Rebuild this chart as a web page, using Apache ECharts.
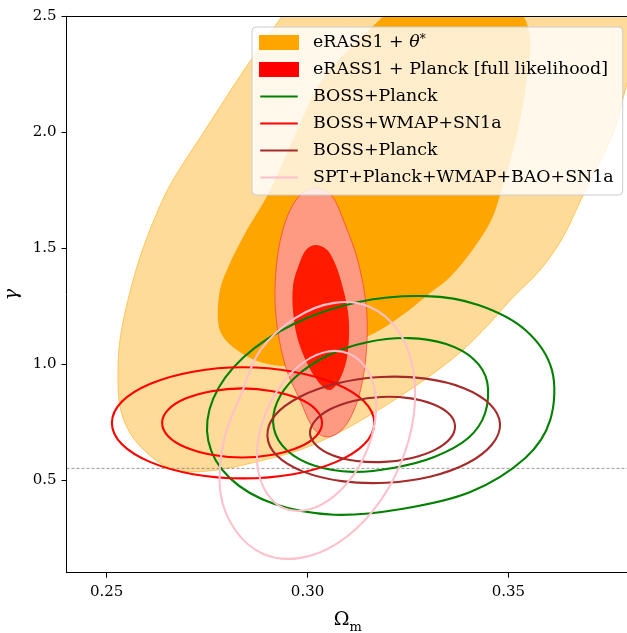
<!DOCTYPE html>
<html>
<head>
<meta charset="utf-8">
<script src="https://cdn.jsdelivr.net/npm/echarts@6/dist/echarts.min.js"></script>
<style>
  html, body { margin: 0; padding: 0; background: #ffffff; }
  #chart { width: 627px; height: 633px; }
</style>
</head>
<body>
<div id="chart"></div>
<script>
// Axis ticks
const xTicks = [0.25, 0.30, 0.35];
const yTicks = [0.5, 1.0, 1.5, 2.0, 2.5];
// Reference growth index (GR)
const gammaRef = 0.55;

// Confidence contours in the (Omega_m, gamma) plane, [Omega_m, gamma] vertices.
// eRASS1 + theta*: 95% and 68% regions (open beyond the top/right of the window)
const erassThetaOuter = [[0.2956,2.549],[0.3031,2.743],[0.3230,3.002],[0.3479,3.088],[0.3728,2.959],[0.3853,2.657],[0.3840,2.398],[0.3796,2.212],[0.3761,1.997],[0.3686,1.729],[0.3636,1.548],[0.3579,1.406],[0.3512,1.289],[0.3454,1.177],[0.3387,1.061],[0.3318,0.966],[0.3243,0.875],[0.3168,0.793],[0.3081,0.707],[0.2981,0.629],[0.2882,0.582],[0.2790,0.547],[0.2707,0.535],[0.2650,0.556],[0.2600,0.617],[0.2558,0.703],[0.2533,0.815],[0.2528,0.962],[0.2533,1.104],[0.2551,1.263],[0.2583,1.462],[0.2625,1.652],[0.2665,1.794],[0.2745,2.010],[0.2847,2.281]];
const erassThetaInner = [[0.3186,2.497],[0.3230,2.592],[0.3330,2.635],[0.3430,2.613],[0.3504,2.562],[0.3539,2.497],[0.3554,2.398],[0.3549,2.268],[0.3524,2.010],[0.3479,1.729],[0.3454,1.609],[0.3405,1.479],[0.3355,1.376],[0.3305,1.307],[0.3243,1.220],[0.3193,1.160],[0.3143,1.113],[0.3093,1.069],[0.3036,1.031],[0.2981,1.000],[0.2932,0.992],[0.2874,1.013],[0.2824,1.061],[0.2790,1.117],[0.2777,1.190],[0.2782,1.320],[0.2807,1.436],[0.2849,1.578],[0.2907,1.751],[0.2969,1.988],[0.3031,2.212],[0.3106,2.363]];
// eRASS1 + Planck (full likelihood)
const erassPlanckOuter = [[0.3016,1.759],[0.2974,1.714],[0.2941,1.594],[0.2922,1.417],[0.2921,1.211],[0.2944,0.996],[0.2981,0.845],[0.3014,0.724],[0.3051,0.686],[0.3093,0.731],[0.3126,0.851],[0.3145,1.027],[0.3147,1.234],[0.3126,1.440],[0.3093,1.604],[0.3061,1.723]];
const erassPlanckInner = [[0.3019,1.514],[0.3049,1.492],[0.3071,1.423],[0.3088,1.328],[0.3101,1.220],[0.3103,1.113],[0.3096,1.009],[0.3078,0.927],[0.3056,0.888],[0.3031,0.914],[0.3001,0.996],[0.2976,1.104],[0.2964,1.225],[0.2964,1.341],[0.2981,1.440],[0.2996,1.492]];
// BOSS+Planck
const bossPlanckOuter = [[0.3608,0.975],[0.3542,1.147],[0.3425,1.255],[0.3295,1.293],[0.3127,1.268],[0.2968,1.175],[0.2840,1.028],[0.2765,0.850],[0.2753,0.668],[0.2806,0.509],[0.2916,0.397],[0.3066,0.350],[0.3234,0.375],[0.3405,0.448],[0.3542,0.595],[0.3604,0.759]];
const bossPlanckInner = [[0.3447,0.924],[0.3414,1.020],[0.3345,1.086],[0.3252,1.112],[0.3148,1.094],[0.3049,1.036],[0.2970,0.944],[0.2924,0.835],[0.2916,0.723],[0.2949,0.627],[0.3018,0.561],[0.3112,0.535],[0.3216,0.553],[0.3315,0.599],[0.3400,0.681],[0.3442,0.789]];
// BOSS+WMAP+SN1a
const bossWmapOuter = [[0.3166,0.746],[0.3141,0.838],[0.3070,0.915],[0.2964,0.967],[0.2839,0.986],[0.2715,0.967],[0.2609,0.915],[0.2538,0.838],[0.2513,0.746],[0.2538,0.654],[0.2609,0.577],[0.2715,0.525],[0.2839,0.507],[0.2964,0.525],[0.3070,0.577],[0.3141,0.654]];
const bossWmapInner = [[0.3036,0.746],[0.3021,0.803],[0.2978,0.851],[0.2913,0.883],[0.2837,0.895],[0.2761,0.883],[0.2696,0.851],[0.2653,0.803],[0.2638,0.746],[0.2653,0.689],[0.2696,0.641],[0.2761,0.609],[0.2837,0.597],[0.2913,0.609],[0.2978,0.641],[0.3021,0.689]];
// BOSS+Planck (second analysis)
const bossPlanckBOuter = [[0.3479,0.742],[0.3454,0.827],[0.3389,0.896],[0.3294,0.937],[0.3182,0.944],[0.3072,0.916],[0.2980,0.858],[0.2919,0.779],[0.2900,0.689],[0.2924,0.604],[0.2989,0.536],[0.3085,0.495],[0.3196,0.488],[0.3307,0.515],[0.3399,0.573],[0.3459,0.653]];
const bossPlanckBInner = [[0.3367,0.734],[0.3352,0.786],[0.3311,0.828],[0.3252,0.853],[0.3183,0.858],[0.3114,0.841],[0.3056,0.805],[0.3019,0.756],[0.3006,0.701],[0.3022,0.649],[0.3062,0.607],[0.3122,0.582],[0.3191,0.578],[0.3260,0.595],[0.3317,0.630],[0.3355,0.679]];
// SPT+Planck+WMAP+BAO+SN1a
const sptOuter = [[0.3155,1.246],[0.3066,1.264],[0.2970,1.199],[0.2882,1.059],[0.2837,0.880],[0.2792,0.673],[0.2783,0.446],[0.2821,0.281],[0.2890,0.181],[0.2979,0.163],[0.3075,0.228],[0.3163,0.368],[0.3229,0.560],[0.3264,0.775],[0.3262,0.981],[0.3224,1.147]];
const sptInner = [[0.3104,1.044],[0.3051,1.054],[0.2993,1.011],[0.2940,0.923],[0.2899,0.802],[0.2877,0.668],[0.2877,0.540],[0.2900,0.439],[0.2941,0.378],[0.2994,0.369],[0.3052,0.412],[0.3105,0.500],[0.3146,0.620],[0.3168,0.755],[0.3168,0.882],[0.3145,0.984]];

const SERIF = 'DejaVu Serif';
// thin horizontal bar inside a 40x16 box, used as a line swatch in the legend
const LINE_ICON = 'path://M0,0 M0,7 L40,7 L40,9 L0,9 Z M40,16';

// Closed Catmull-Rom curve through the projected vertices, written as SVG path data
function closedCurve(px) {
  const n = px.length;
  const f = v => v.toFixed(2);
  let d = 'M' + f(px[0][0]) + ',' + f(px[0][1]);
  for (let i = 0; i < n; i++) {
    const p0 = px[(i - 1 + n) % n], p1 = px[i], p2 = px[(i + 1) % n], p3 = px[(i + 2) % n];
    const c1x = p1[0] + (p2[0] - p0[0]) / 6, c1y = p1[1] + (p2[1] - p0[1]) / 6;
    const c2x = p2[0] - (p3[0] - p1[0]) / 6, c2y = p2[1] - (p3[1] - p1[1]) / 6;
    d += 'C' + f(c1x) + ',' + f(c1y) + ' ' + f(c2x) + ',' + f(c2y) + ' ' + f(p2[0]) + ',' + f(p2[1]);
  }
  return d + 'Z';
}

// One custom series per data set; each region is drawn as a smooth closed curve
function contourSeries(name, color, regions, z) {
  return {
    type: 'custom',
    name: name,
    coordinateSystem: 'cartesian2d',
    clip: true,
    silent: true,
    z: z,
    itemStyle: { color: color },
    data: regions.map((r, i) => [i, i]),
    renderItem: function (params, api) {
      const r = regions[params.dataIndex];
      return {
        type: 'path',
        shape: { pathData: closedCurve(r.pts.map(p => api.coord(p))) },
        style: {
          fill: r.fill || null,
          stroke: r.stroke || null,
          lineWidth: r.width || 0
        }
      };
    }
  };
}

const chart = echarts.init(document.getElementById('chart'), null, { renderer: 'canvas' });

const LW = 2.1;
const series = [
  contourSeries('eRASS1 + θ*', '#FFA500', [
    { pts: erassThetaOuter, fill: 'rgba(255,165,0,0.4)', stroke: 'rgba(255,165,0,0.55)', width: 1 },
    { pts: erassThetaInner, fill: '#FFA500' }
  ], 2),
  contourSeries('eRASS1 + Planck [full likelihood]', '#FF0000', [
    { pts: erassPlanckOuter, fill: '#FF9A82', stroke: 'rgba(255,60,30,0.7)', width: 1 },
    { pts: erassPlanckInner, fill: '#FF1A00' }
  ], 3),
  {
    type: 'line',
    name: 'gammaRef',
    data: [[0.24, gammaRef], [0.38, gammaRef]],
    symbol: 'none',
    silent: true,
    z: 4,
    lineStyle: { color: '#7f7f7f', width: 0.8, type: [3, 2] }
  },
  contourSeries('BOSS+Planck', '#008000', [
    { pts: bossPlanckOuter, stroke: '#008000', width: LW },
    { pts: bossPlanckInner, stroke: '#008000', width: LW }
  ], 5),
  contourSeries('BOSS+WMAP+SN1a', '#FF0000', [
    { pts: bossWmapOuter, stroke: '#FF0000', width: LW },
    { pts: bossWmapInner, stroke: '#FF0000', width: LW }
  ], 6),
  contourSeries('BOSS+Planck ', '#A52A2A', [
    { pts: bossPlanckBOuter, stroke: '#A52A2A', width: LW },
    { pts: bossPlanckBInner, stroke: '#A52A2A', width: LW }
  ], 7),
  contourSeries('SPT+Planck+WMAP+BAO+SN1a', '#FFC0CB', [
    { pts: sptOuter, stroke: '#FFC0CB', width: LW },
    { pts: sptInner, stroke: '#FFC0CB', width: LW }
  ], 8)
];

const axisCommon = {
  type: 'value',
  z: 10,
  splitLine: { show: false },
  axisLine: { show: true, onZero: false, lineStyle: { color: '#000', width: 1 } }
};

chart.setOption({
  animation: false,
  backgroundColor: '#ffffff',
  grid: { left: 66.5, top: 16.3, right: -2, bottom: 60.3, containLabel: false, outerBoundsMode: 'none' },
  xAxis: [
    Object.assign({}, axisCommon, {
      min: 0.24, max: 0.38, position: 'bottom',
      name: '{o|Ω}{m|m}', nameLocation: 'middle', nameGap: 38,
      nameTextStyle: {
        rich: {
          o: { fontFamily: SERIF, fontSize: 19, color: '#000', padding: [0, 0, 4, 0] },
          m: { fontFamily: SERIF, fontSize: 13, color: '#000', verticalAlign: 'bottom' }
        }
      },
      axisTick: { show: true, inside: false, length: 5, customValues: xTicks, lineStyle: { color: '#000' } },
      axisLabel: {
        customValues: xTicks, margin: 12,
        fontFamily: SERIF, fontSize: 15, color: '#000',
        formatter: v => v.toFixed(2)
      }
    }),
    Object.assign({}, axisCommon, {
      min: 0.24, max: 0.38, position: 'top',
      axisTick: { show: false }, axisLabel: { show: false }
    })
  ],
  yAxis: Object.assign({}, axisCommon, {
    min: 0.1, max: 2.5, position: 'left',
    name: 'γ', nameLocation: 'middle', nameGap: 44,
    nameTextStyle: { fontFamily: SERIF, fontStyle: 'italic', fontSize: 19, color: '#000' },
    axisTick: { show: true, inside: false, length: 5, customValues: yTicks, lineStyle: { color: '#000' } },
    axisLabel: {
      customValues: yTicks, margin: 10,
      fontFamily: SERIF, fontSize: 15, color: '#000',
      formatter: v => v.toFixed(1)
    }
  }),
  legend: {
    orient: 'vertical',
    left: 252, top: 27,
    padding: [7, 9, 9, 7],
    itemWidth: 40, itemHeight: 15,
    itemGap: 10,
    selectedMode: false,
    backgroundColor: 'rgba(255,255,255,0.8)',
    borderColor: '#cccccc', borderWidth: 1, borderRadius: 4,
    z: 20,
    textStyle: {
      fontFamily: SERIF, fontSize: 17.4, color: '#000', lineHeight: 17,
      padding: [0, 0, 0, 9],
      rich: {
        it: { fontFamily: SERIF, fontSize: 17.4, fontStyle: 'italic', color: '#000', lineHeight: 17 },
        sup: { fontFamily: SERIF, fontSize: 12, color: '#000', verticalAlign: 'top', lineHeight: 17 }
      }
    },
    formatter: function (name) {
      if (name === 'eRASS1 + θ*') return 'eRASS1 + {it|θ}{sup|*}';
      return name.trim();
    },
    data: [
      { name: 'eRASS1 + θ*', icon: 'rect' },
      { name: 'eRASS1 + Planck [full likelihood]', icon: 'rect' },
      { name: 'BOSS+Planck', icon: LINE_ICON },
      { name: 'BOSS+WMAP+SN1a', icon: LINE_ICON },
      { name: 'BOSS+Planck ', icon: LINE_ICON },
      { name: 'SPT+Planck+WMAP+BAO+SN1a', icon: LINE_ICON }
    ]
  },
  series: series
});
</script>
</body>
</html>
